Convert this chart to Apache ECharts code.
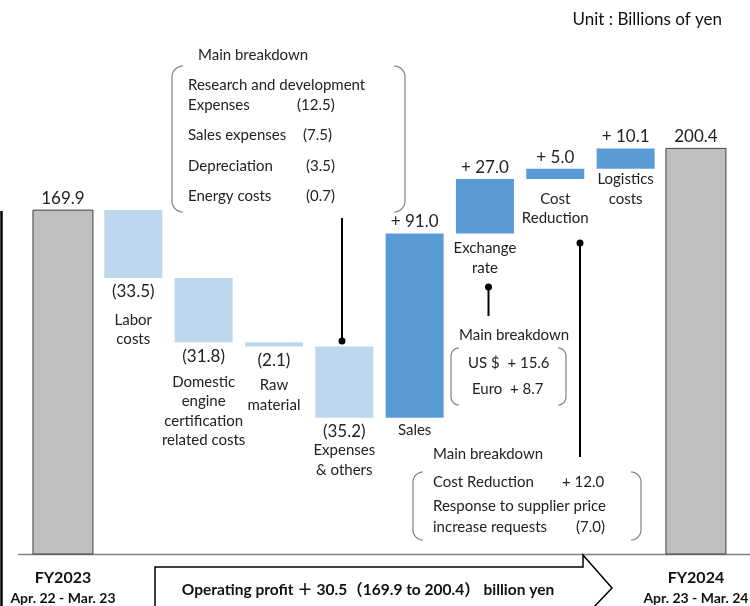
<!DOCTYPE html>
<html><head><meta charset="utf-8">
<script src="https://cdn.jsdelivr.net/npm/echarts@6/dist/echarts.min.js"></script>
<style>html,body{margin:0;padding:0;background:#fff}#c{width:750px;height:606px}</style>
</head><body><div id="c"></div>
<script>
// ---- data ----
const categories = ['FY2023','Labor costs','Domestic engine certification related costs','Raw material','Expenses & others','Sales','Exchange rate','Cost Reduction','Logistics costs','FY2024'];
const changes = [169.9, -33.5, -31.8, -2.1, -35.2, 91.0, 27.0, 5.0, 10.1, 200.4];
const kinds = ['total','down','down','down','down','up','up','up','up','total'];
const valueLabels = ['169.9','(33.5)','(31.8)','(2.1)','(35.2)','+ 91.0','+ 27.0','+ 5.0','+ 10.1','200.4'];
const nameLabels = ['', 'Labor\ncosts', 'Domestic\nengine\ncertification\nrelated costs', 'Raw\nmaterial', 'Expenses\n& others', 'Sales', 'Exchange\nrate', 'Cost\nReduction', 'Logistics\ncosts', ''];
const periodYears = ['FY2023','','','','','','','','','FY2024'];
const periodRanges = ['Apr. 22 - Mar. 23','','','','','','','','','Apr. 23 - Mar. 24'];
const expensesBreakdown = [['Research and development',''],['Expenses','(12.5)'],['Sales expenses','(7.5)'],['Depreciation','(3.5)'],['Energy costs','(0.7)']];
const exchangeBreakdown = ['US $  + 15.6','Euro  + 8.7'];
const costBreakdown = [['Cost Reduction','+ 12.0'],['Response to supplier price',''],['increase requests','(7.0)']];
const unitText = 'Unit : Billions of yen';
const summaryText = 'Operating profit ＋ 30.5（169.9 to 200.4） billion yen';

// ---- layout / style ----
const FONT = 'Lato, "Noto Sans", "Noto Sans CJK JP", sans-serif';
const nameGap = [0, 32, 30, 29, 23, 3, 5, 10, 1, 0];
const colors = { total:'#BFBFBF', down:'#BDD7EE', up:'#5B9BD5' };

let run = 0;
const bars = changes.map((v, i) => {
  let lo, hi;
  if (kinds[i] === 'total') { lo = 0; hi = v; run = v; }
  else if (v < 0) { lo = run + v; hi = run; run += v; }
  else { lo = run; hi = run + v; run += v; }
  return [i, +lo.toFixed(2), +hi.toFixed(2)];
});

function txt(text, x, y, opt) {
  opt = opt || {};
  return { type:'text', x:x, y:y, silent:true, style: {
    text: text, x:0, y:0, fill: opt.fill || '#222',
    font: (opt.weight || 'normal') + ' ' + (opt.size || 15) + 'px ' + FONT,
    fontSize: opt.size || 15, fontFamily: FONT, fontWeight: opt.weight || 'normal',
    align: opt.align || 'left', textAlign: opt.align || 'left',
    verticalAlign: opt.va || 'middle', textVerticalAlign: opt.va || 'middle',
    lineHeight: opt.lh || 19.5 } };
}

function renderItem(params, api) {
  const i = api.value(0), lo = api.value(1), hi = api.value(2);
  const k = kinds[i];
  const pLo = api.coord([i, lo]), pHi = api.coord([i, hi]);
  const cx = pLo[0];
  const w = k === 'total' ? 60 : 58;
  const ch = [];
  ch.push({ type:'rect', shape:{ x: cx - w/2, y: pHi[1], width: w, height: Math.max(pLo[1] - pHi[1], 1) },
    style: { fill: colors[k], stroke: k === 'total' ? '#404040' : null, lineWidth: k === 'total' ? 1 : 0 } });
  if (k === 'down') {
    ch.push(txt(valueLabels[i], cx, pLo[1] + 4, { size:17, align:'center', va:'top' }));
    ch.push(txt(nameLabels[i], cx, pLo[1] + nameGap[i], { size:15, align:'center', va:'top' }));
  } else {
    ch.push(txt(valueLabels[i], cx, pHi[1] - 2, { size:17, align:'center', va:'bottom' }));
    if (nameLabels[i]) ch.push(txt(nameLabels[i], cx, pLo[1] + nameGap[i], { size:15, align:'center', va:'top' }));
  }
  if (periodYears[i]) {
    const base = api.coord([i, 0]);
    ch.push(txt(periodYears[i], cx, base[1] + 24, { size:16, weight:'bold', align:'center', fill:'#111' }));
    ch.push(txt(periodRanges[i], cx, base[1] + 44, { size:14, weight:'bold', align:'center', fill:'#111' }));
  }
  return { type:'group', children: ch };
}

function bracketPts(x, y0, y1, r, dir) {
  const pts = [];
  const n = 8;
  for (let k = 0; k <= n; k++) {
    const a = Math.PI / 2 * k / n;
    pts.push([x + dir * r * (1 - Math.sin(a)), y0 + r * (1 - Math.cos(a))]);
  }
  for (let k = 0; k <= n; k++) {
    const a = Math.PI / 2 * k / n;
    pts.push([x + dir * r * (1 - Math.cos(a)), y1 - r * (1 - Math.sin(a))]);
  }
  return pts;
}
function bracketBox(xl, xr, y0, y1, r) {
  const st = { stroke:'#808080', lineWidth:1.2, fill:null };
  return [
    { type:'polyline', shape:{ points: bracketPts(xl, y0, y1, r, 1) }, style: st, silent:true },
    { type:'polyline', shape:{ points: bracketPts(xr, y0, y1, r, -1) }, style: st, silent:true }
  ];
}

const g = [];
g.push(txt(unitText, 722, 20, { size:17, align:'right', fill:'#111' }));
g.push({ type:'line', shape:{ x1:1.5, y1:211, x2:1.5, y2:606 }, style:{ stroke:'#000', lineWidth:2.5 }, silent:true });
g.push({ type:'line', shape:{ x1:18, y1:554.5, x2:750, y2:554.5 }, style:{ stroke:'#808080', lineWidth:1.5 }, silent:true });
g.push({ type:'polyline', shape:{ points:[[155,608],[155,567],[583,567],[583,555],[612,588],[593,608]] },
  style:{ stroke:'#000', lineWidth:1.5, fill:null }, silent:true });
g.push(txt(summaryText, 368, 590, { size:15.5, weight:'bold', align:'center', fill:'#111' }));
// box 1 : expenses breakdown
g.push(txt('Main breakdown', 198, 55, { size:15 }));
bracketBox(172, 405, 66, 212, 11).forEach(e => g.push(e));
const b1y = [85, 105, 135, 166, 196];
expensesBreakdown.forEach((r, k) => {
  g.push(txt(r[0], 188, b1y[k], { size:15 }));
  if (r[1]) g.push(txt(r[1], [0, 297, 303, 306, 306][k], b1y[k], { size:15 }));
});
g.push({ type:'line', shape:{ x1:342, y1:218, x2:342, y2:341 }, style:{ stroke:'#000', lineWidth:2 }, silent:true });
g.push({ type:'circle', shape:{ cx:342, cy:341, r:3.5 }, style:{ fill:'#000' }, silent:true });
// box 2 : exchange
g.push({ type:'line', shape:{ x1:488.5, y1:287, x2:488.5, y2:316 }, style:{ stroke:'#000', lineWidth:2 }, silent:true });
g.push({ type:'circle', shape:{ cx:488.5, cy:287, r:3.5 }, style:{ fill:'#000' }, silent:true });
g.push(txt('Main breakdown', 459, 335, { size:15 }));
bracketBox(451, 566, 348, 405, 8).forEach(e => g.push(e));
g.push(txt(exchangeBreakdown[0], 468, 363, { size:15 }));
g.push(txt(exchangeBreakdown[1], 472, 389, { size:15 }));
// box 3 : cost reduction
g.push({ type:'line', shape:{ x1:580, y1:243, x2:580, y2:457 }, style:{ stroke:'#000', lineWidth:2 }, silent:true });
g.push({ type:'circle', shape:{ cx:580, cy:243, r:3.5 }, style:{ fill:'#000' }, silent:true });
g.push(txt('Main breakdown', 433, 454, { size:15 }));
bracketBox(413, 641, 472, 540, 10).forEach(e => g.push(e));
const b3y = [482, 506, 527];
costBreakdown.forEach((r, k) => {
  g.push(txt(r[0], 433, b3y[k], { size:15 }));
  if (r[1]) g.push(txt(r[1], [562, 0, 576][k], b3y[k], { size:15 }));
});

const chart = echarts.init(document.getElementById('c'), null, { renderer:'canvas' });
chart.setOption({
  animation:false,
  backgroundColor:'#fff',
  grid:{ left:27.8, right:18.9, top:48, bottom:52, containLabel:false },
  xAxis:{ type:'category', data:categories, show:false },
  yAxis:{ type:'value', min:0, max:250, show:false },
  series:[{ type:'custom', renderItem: renderItem, clip:false, encode:{ x:0, y:[1,2] }, data: bars }],
  graphic: g
});
</script></body></html>
